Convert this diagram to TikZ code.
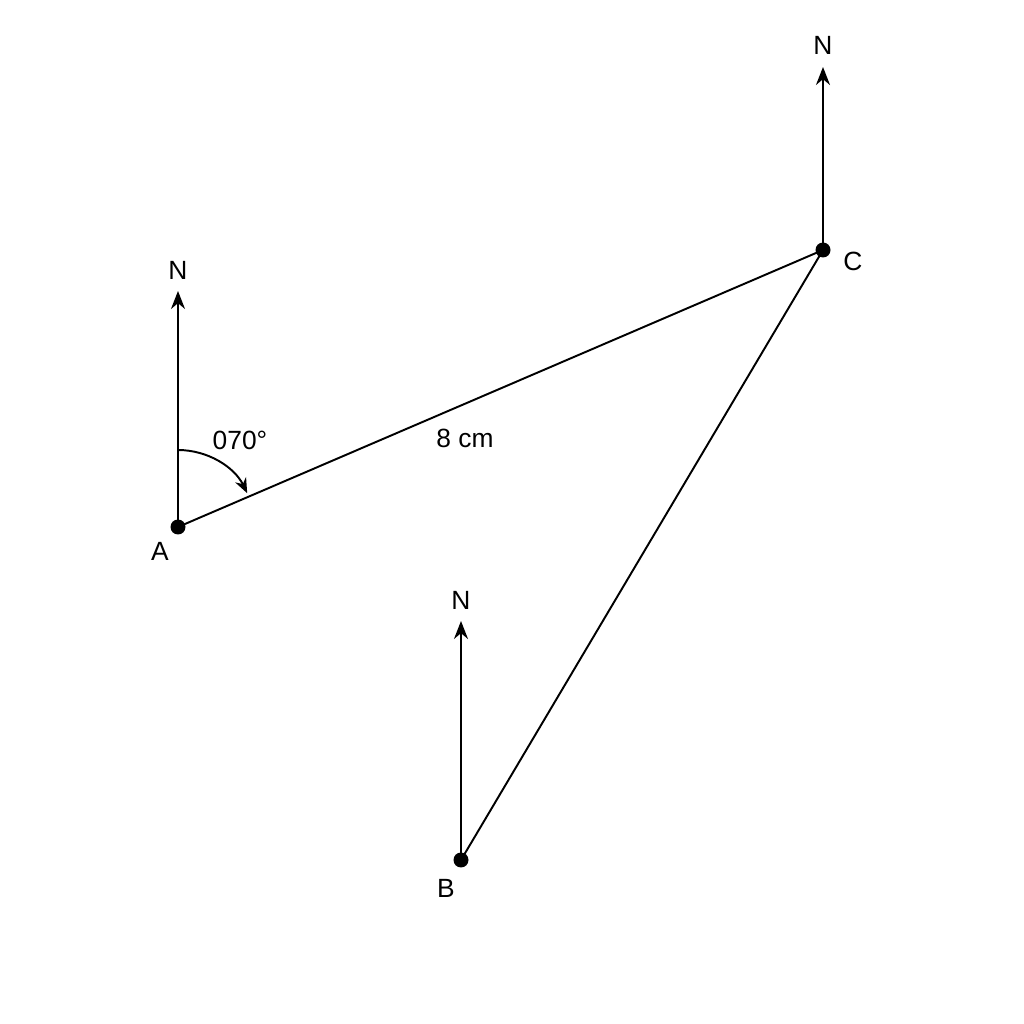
\documentclass[tikz,border=0pt]{standalone}
\usepackage{fontspec}
\setmainfont{Liberation Sans}
\usetikzlibrary{arrows.meta,calc}
\tikzset{
  northarrow/.style={-{Stealth[length=3.6mm,width=2.8mm]},line width=1.1pt},
  leg/.style={line width=1.1pt},
  lbl/.style={font=\fontsize{15}{18}\selectfont}
}
\begin{document}
\begin{tikzpicture}
        \useasboundingbox[fill=white] (0,0) rectangle (20.48,20.48);

        % points
        \coordinate (A) at (3.56, 9.94);
        \coordinate (C) at (16.46, 15.48);
        \coordinate (B) at (9.22, 3.28);

        % north lines
        \coordinate (nA) at (3.56, 14.66);
        \coordinate (nC) at (16.46, 19.14);
        \coordinate (nB) at (9.22, 8.06);
        \draw[northarrow] (A) -- (nA);
        \draw[northarrow] (C) -- (nC);
        \draw[northarrow] (B) -- (nB);
        \node[lbl] (NA) at (3.56, 15.08) {N};
        \node[lbl] (NC) at (16.46, 19.58) {N};
        \node[lbl] (NB) at (9.22, 8.48) {N};

        % legs
        \draw[leg] (A) -- (C);
        \draw[leg] (C) -- (B);

        \fill (A) circle (0.15);
        \fill (B) circle (0.15);
        \fill (C) circle (0.15);

        \node[lbl] (la) at (3.2, 9.46) {A};
        \node[lbl] (lb) at (8.92, 2.72) {B};
        \node[lbl] (lc) at (17.06, 15.26) {C};

        % bearing
        \draw[-{Stealth[length=3mm,width=2.4mm]},line width=1.1pt]
            ($(A)+(0,1.54)$) arc[start angle=90, end angle=26, radius=1.54];
        \node[lbl] (brg) at (4.8, 11.68) {070°};
        \node[lbl] (dist) at (9.3, 11.72) {8 cm};

    \end{tikzpicture}
\end{document}
